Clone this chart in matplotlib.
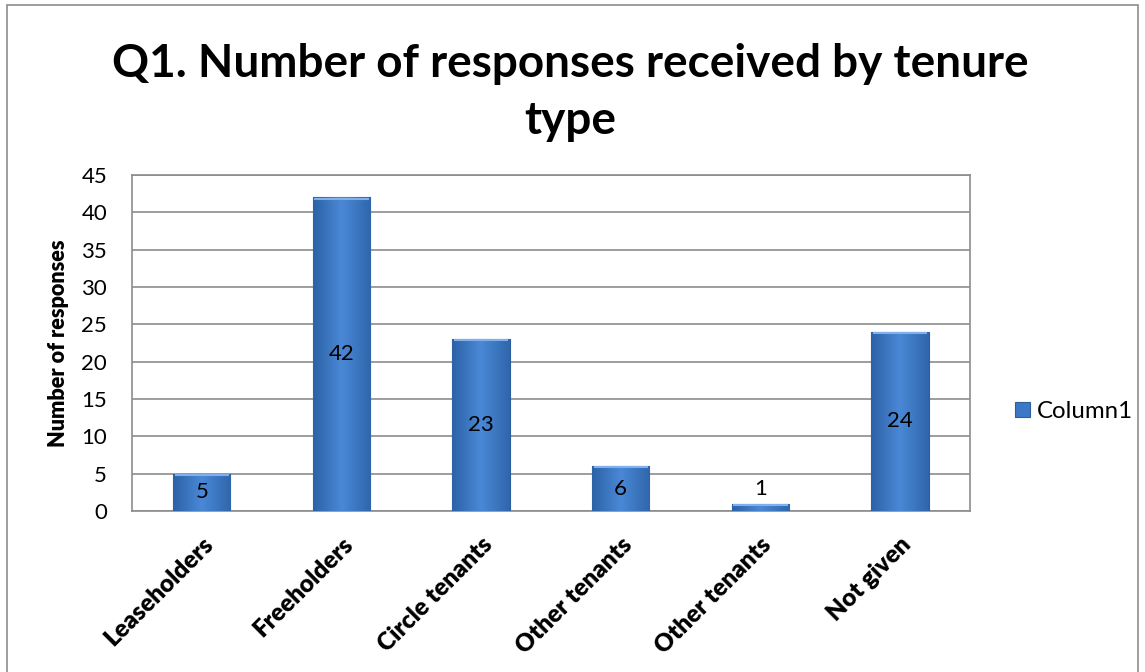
import numpy as np
import matplotlib.pyplot as plt
from matplotlib.patches import Rectangle
from matplotlib.colors import LinearSegmentedColormap

categories = ['Leaseholders', 'Freeholders', 'Circle tenants', 'Other tenants', 'Other tenants', 'Not given']
responses = [5, 42, 23, 6, 1, 24]
yticks = list(range(0, 46, 5))

plt.rcParams['font.family'] = ['Lato', 'DejaVu Sans']

fig = plt.figure(figsize=(11.45, 6.72), dpi=100)
ax = fig.add_axes([0.1153, 0.2396, 0.7317, 0.5])

# outer chart border
fig.patches.append(Rectangle((7 / 1145, -0.05), 1131 / 1145, 1.05 - 5 / 672,
                             transform=fig.transFigure, fill=False,
                             edgecolor='#8c8c8c', lw=1.2))

x = np.arange(len(categories))
bars = ax.bar(x, responses, width=0.41, color='#3b78c6', edgecolor='#2d5f9e',
              lw=0.8, label='Column1', zorder=3)

# horizontal gradient to mimic the shaded bars
cmap = LinearSegmentedColormap.from_list('bar', ['#2c62a6', '#4a88d6', '#2f66ab'])
grad = np.linspace(0, 1, 256).reshape(1, -1)
for b in bars:
    x0, y0, w, h = b.get_x(), b.get_y(), b.get_width(), b.get_height()
    im = ax.imshow(grad, cmap=cmap, extent=[x0, x0 + w, y0, y0 + h],
                   aspect='auto', zorder=3.5)
    im.set_clip_path(b)
    ax.plot([x0 + 0.01, x0 + w - 0.01], [y0 + h - 0.15, y0 + h - 0.15],
            color='#7fb0ec', lw=1.5, zorder=4, solid_capstyle='butt')

for xi, v in zip(x, responses):
    if v < 3:
        ax.text(xi, v + 0.6, str(v), ha='center', va='bottom', fontsize=16, zorder=5)
    else:
        ax.text(xi, v / 2, str(v), ha='center', va='center', fontsize=16, zorder=5)

ax.set_xlim(-0.5, len(categories) - 0.5)
ax.set_ylim(0, 45)
ax.set_yticks(yticks)
ax.set_yticklabels([str(t) for t in yticks], fontsize=16)
ax.yaxis.grid(True, color='#8c8c8c', lw=1.2, zorder=0)
ax.set_axisbelow(True)
ax.tick_params(axis='y', length=0, pad=18)
ax.tick_params(axis='x', length=0, pad=16)
ax.set_xticks(x)
ax.set_xticklabels(categories, rotation=45, ha='right', rotation_mode='anchor',
                   fontsize=17.5, fontweight='heavy')
for s in ax.spines.values():
    s.set_color('#8c8c8c')
    s.set_linewidth(1.2)

ax.set_ylabel('Number of responses', fontsize=15.6, fontweight='heavy', labelpad=9)

fig.text(0.498, 0.862, 'Q1. Number of responses received by tenure\ntype',
         ha='center', va='center', fontsize=33, fontweight='bold', linespacing=1.45)

leg = ax.legend(loc='center left', bbox_to_anchor=(1.0, 0.297), frameon=False,
                fontsize=17.3, handlelength=0.6, handleheight=0.6, handletextpad=0.3,
                borderaxespad=1.5)

fig.savefig('out.png', dpi=100)
